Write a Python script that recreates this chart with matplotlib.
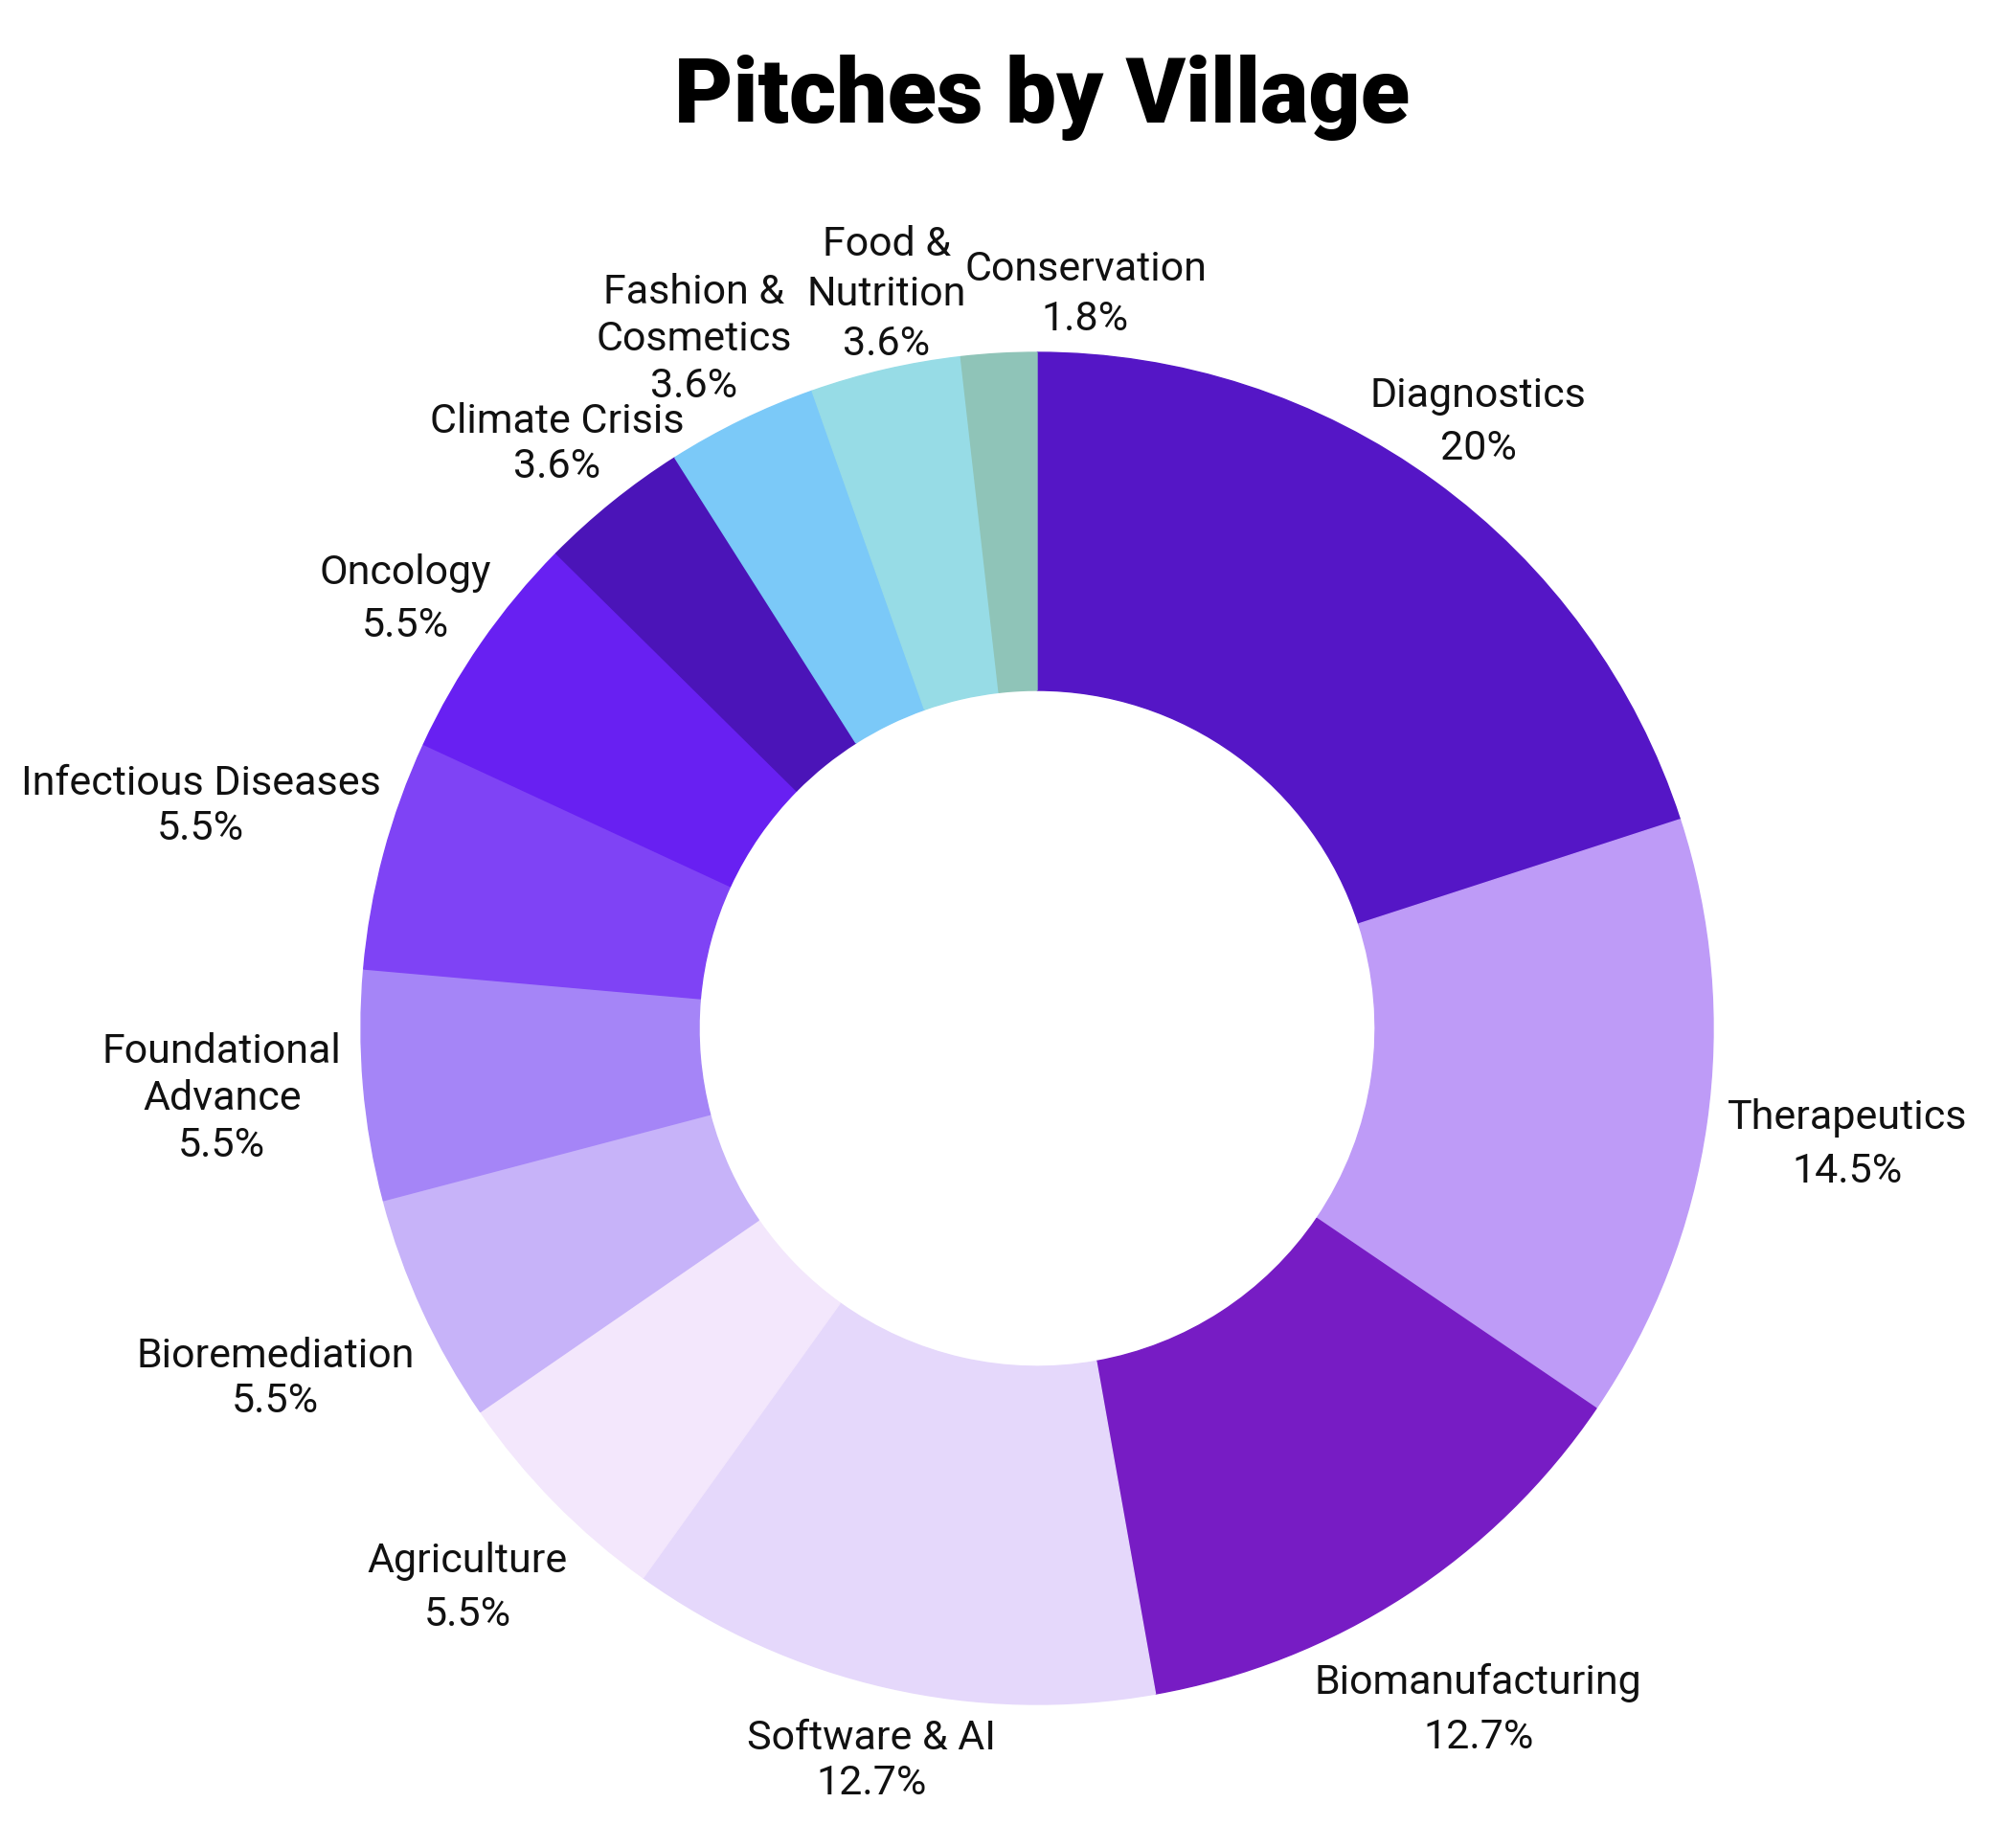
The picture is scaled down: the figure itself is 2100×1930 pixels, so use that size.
import matplotlib.pyplot as plt
import numpy as np

# pitches per village (percent of 55 pitches)
villages = ["Diagnostics", "Therapeutics", "Biomanufacturing", "Software & AI",
            "Agriculture", "Bioremediation", "Foundational\nAdvance",
            "Infectious Diseases", "Oncology", "Climate Crisis",
            "Fashion &\nCosmetics", "Food &\nNutrition", "Conservation"]
share = [20, 14.5, 12.7, 12.7, 5.5, 5.5, 5.5, 5.5, 5.5, 3.6, 3.6, 3.6, 1.8]
pct_labels = ["20%", "14.5%", "12.7%", "12.7%", "5.5%", "5.5%", "5.5%",
              "5.5%", "5.5%", "3.6%", "3.6%", "3.6%", "1.8%"]

colors = ["#5516c6", "#be9bf7", "#771cc4", "#e5d8fb", "#f3e7fc", "#c7b3f9",
          "#a585f7", "#7f43f5", "#6820f2", "#4b14b8", "#7bc9f8", "#97dce6",
          "#8fc4b8"]

# label layout: distance from centre (in outer radii), angle nudge, line gap
lab_dist = [1.11, 1.21, 1.20, 1.11, 1.18, 1.24, 1.21, 1.28, 1.13, 1.12, 1.14, 1.11, 1.09]
lab_nudge = [0, 0, 0, 0, 0, 0, 0, 0, 0.5, 0.5, 0.5, -1.4, -7]
lab_gap = [1.45, 1.45, 1.5, 1.2, 1.45, 1.2, 1.25, 1.2, 1.45, 1.2, 1.25, 1.35, 1.35]

W, H = 2100, 1931
cx, cy, R = 1083, 1075, 706   # donut centre / radius in pixels (from top)

fig = plt.figure(figsize=(W / 100, H / 100), dpi=100)
ax = fig.add_axes([0, 0, 1, 1])

wedges, _ = ax.pie(share, colors=colors, startangle=90, counterclock=False,
                   radius=1, wedgeprops=dict(width=0.5, linewidth=1))
for w, c in zip(wedges, colors):
    w.set_edgecolor(c)

# pie() resets the limits, so set them afterwards
ax.set_xlim(-cx / R, (W - cx) / R)
ax.set_ylim(-(H - cy) / R, cy / R)
ax.set_aspect("equal")
ax.axis("off")

for i, w in enumerate(wedges):
    ang = np.deg2rad((w.theta1 + w.theta2) / 2 + lab_nudge[i])
    d = lab_dist[i]
    ax.text(d * np.cos(ang), d * np.sin(ang), villages[i] + "\n" + pct_labels[i],
            ha="center", va="center", multialignment="center",
            fontsize=31, family=["Roboto", "DejaVu Sans"],
            linespacing=lab_gap[i], color="#111111")

fig.text(1088 / W, 1 - 128 / H, "Pitches by Village", ha="center", va="baseline",
         fontsize=68, fontweight="heavy", family=["Roboto", "DejaVu Sans"])

fig.savefig("out.png", dpi=100, facecolor="white")
